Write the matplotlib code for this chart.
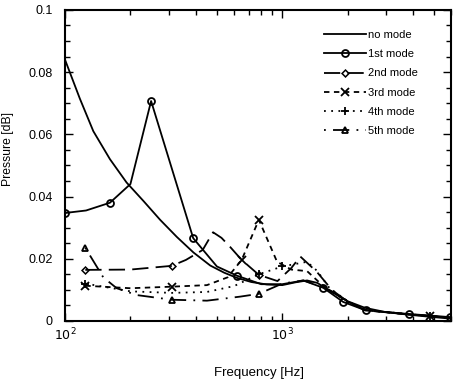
import matplotlib
matplotlib.use("Agg")
import matplotlib.pyplot as plt
from matplotlib.ticker import MultipleLocator, FixedLocator, LogLocator, NullFormatter

plt.rcParams['font.family'] = ['Liberation Sans', 'DejaVu Sans']

# ---- data ----
f_none = [100, 117, 135, 161, 192, 230, 274, 327, 390, 466, 540, 620, 720, 850, 1000, 1150, 1300, 1450, 1600, 1800, 2000, 2400, 3000, 3800, 4800, 6000]
p_none = [0.084, 0.0715, 0.061, 0.052, 0.0445, 0.0385, 0.0325, 0.027, 0.022, 0.0178, 0.0155, 0.0138, 0.0125, 0.0117, 0.0115, 0.0124, 0.013, 0.0122, 0.0103, 0.0082, 0.0063, 0.0042, 0.0028, 0.002, 0.0013, 0.0007]

f_m1 = [100, 125, 161, 200, 249, 389, 500, 620, 800, 1000, 1250, 1546, 1905, 2417, 3846, 5940]
p_m1 = [0.0347, 0.0355, 0.038, 0.044, 0.0707, 0.0266, 0.0175, 0.0145, 0.0118, 0.0118, 0.013, 0.0106, 0.0061, 0.0034, 0.0022, 0.0012]
mk_m1 = [0, 2, 4, 5, 7, 11, 12, 13, 14, 15]

f_m2 = [124, 200, 310, 360, 430, 480, 525, 575, 650, 780, 950, 1100, 1210, 1440, 1700, 2000, 2400, 3800, 5900]
p_m2 = [0.0164, 0.0165, 0.0177, 0.0196, 0.0228, 0.0285, 0.0267, 0.0238, 0.0196, 0.0148, 0.0128, 0.017, 0.0207, 0.0158, 0.0098, 0.0062, 0.0034, 0.0021, 0.0011]
mk_m2 = [0, 2, 9]

f_m3 = [124, 200, 310, 450, 560, 650, 780, 946, 1100, 1300, 1500, 1700, 2000, 2400, 3800, 4800, 5900]
p_m3 = [0.0113, 0.0105, 0.011, 0.0115, 0.014, 0.0196, 0.0325, 0.019, 0.0165, 0.016, 0.012, 0.0092, 0.0062, 0.0035, 0.0021, 0.0015, 0.0011]
mk_m3 = [0, 2, 5, 6, 15]

f_m4 = [124, 200, 310, 450, 600, 780, 1000, 1300, 1450, 1650, 2000, 2400, 3800, 4800, 5900]
p_m4 = [0.012, 0.0095, 0.009, 0.0093, 0.0112, 0.015, 0.0175, 0.019, 0.016, 0.0105, 0.0063, 0.0035, 0.0022, 0.0015, 0.0011]
mk_m4 = [0, 5, 6, 13]

f_m5 = [124, 150, 173, 214, 310, 450, 640, 780, 1000, 1250, 1600, 2000, 2400, 3800, 5900]
p_m5 = [0.0235, 0.014, 0.0105, 0.0083, 0.0068, 0.0065, 0.0078, 0.0087, 0.012, 0.013, 0.0105, 0.0062, 0.0035, 0.0021, 0.0011]
mk_m5 = [0, 4, 7]

labels = ["no mode", "1st mode", "2nd mode", "3rd mode", "4th mode", "5th mode"]

fig = plt.figure(figsize=(4.53, 3.82), dpi=100)
ax = fig.add_axes([0.1435, 0.16, 0.853, 0.814])

lw = 1.3
ax.plot(f_none, p_none, color='black', lw=lw, label=labels[0])
ax.plot(f_m1, p_m1, color='black', lw=lw, marker='o', ms=5, mfc='none', mew=1.3,
        markevery=mk_m1, label=labels[1])
ax.plot(f_m2, p_m2, color='black', lw=lw, dashes=(9, 4), marker='D', ms=3.5, mfc='none',
        mew=1.1, markevery=mk_m2, label=labels[2])
ax.plot(f_m3, p_m3, color='black', lw=lw, dashes=(3, 2.5), marker='x', ms=6, mew=1.3,
        markevery=mk_m3, label=labels[3])
ax.plot(f_m4, p_m4, color='black', lw=lw, dashes=(1, 3), marker='+', ms=6, mew=1.3,
        markevery=mk_m4, label=labels[4])
ax.plot(f_m5, p_m5, color='black', lw=lw, dashes=(1, 4, 9, 4), marker='^', ms=5, mfc='none',
        mew=1.3, markevery=mk_m5, label=labels[5])

ax.set_xscale('log')
ax.set_xlim(100, 6000)
ax.set_ylim(0, 0.1)
ax.yaxis.set_major_locator(FixedLocator([0, 0.02, 0.04, 0.06, 0.08, 0.1]))
ax.set_yticklabels(["0", "0.02", "0.04", "0.06", "0.08", "0.1"])
ax.yaxis.set_minor_locator(MultipleLocator(0.005))
ax.xaxis.set_major_locator(FixedLocator([100, 1000]))
ax.set_xticklabels([r"$10^2$", r"$10^3$"])
ax.xaxis.set_minor_locator(LogLocator(base=10, subs=range(2, 10)))
ax.xaxis.set_minor_formatter(NullFormatter())

ax.tick_params(which='both', direction='in', top=True, right=True, labelsize=9, width=1.0)
ax.tick_params(which='major', length=6)
ax.tick_params(which='minor', length=3.5)
ax.tick_params(axis='x', pad=4)
ax.tick_params(axis='y', pad=9)
for s in ax.spines.values():
    s.set_linewidth(1.5)

ax.set_xlabel("Frequency [Hz]", fontsize=9.5)
ax.set_ylabel("Pressure [dB]", fontsize=8.7)
ax.xaxis.set_label_coords(0.503, -0.148)
ax.yaxis.set_label_coords(-0.132, 0.553)

leg = ax.legend(loc='upper right', frameon=False, fontsize=8, numpoints=1,
                handlelength=3.7, labelspacing=0.82, handletextpad=0.25,
                bbox_to_anchor=(0.94, 0.967))

fig.savefig("out.png", dpi=100)
